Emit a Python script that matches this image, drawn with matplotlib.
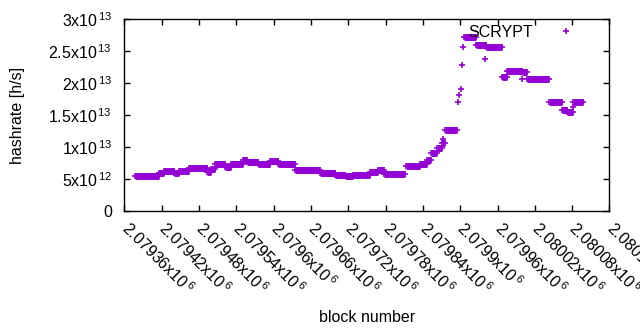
import matplotlib
matplotlib.use('Agg')
import matplotlib.pyplot as plt
from matplotlib.lines import Line2D

plt.rcParams['font.family'] = 'Liberation Sans'
plt.rcParams['mathtext.fontset'] = 'custom'
plt.rcParams['mathtext.rm'] = 'Liberation Sans'
plt.rcParams['mathtext.it'] = 'Liberation Sans'

purple = '#9400d3'
font_size = 11.5

# flat runs of blocks (first block, last block, hashrate in 1e12 h/s)
seg_start = [2079377, 2079415, 2079424, 2079440, 2079448, 2079464, 2079493, 2079499,
             2079506, 2079522, 2079532, 2079551, 2079557, 2079575, 2079594, 2079607,
             2079634, 2079674, 2079699, 2079715, 2079728, 2079739, 2079755, 2079768,
             2079777, 2079813, 2079835, 2079846, 2079853, 2079863, 2079871, 2079875,
             2079906, 2079925, 2079941, 2079967, 2079975, 2080000, 2080008, 2080043,
             2080063, 2080072, 2080082]
seg_end = [2079415, 2079424, 2079440, 2079448, 2079464, 2079493, 2079499, 2079505,
           2079522, 2079532, 2079551, 2079557, 2079575, 2079594, 2079607, 2079634,
           2079674, 2079699, 2079715, 2079728, 2079739, 2079755, 2079768, 2079777,
           2079811, 2079835, 2079846, 2079853, 2079863, 2079871, 2079875, 2079895,
           2079925, 2079941, 2079967, 2079975, 2080000, 2080008, 2080043, 2080063,
           2080072, 2080081, 2080098]
seg_rate = [5.45, 5.9, 6.3, 6.0, 6.2, 6.7, 6.1, 6.5,
            7.3, 6.9, 7.35, 7.9, 7.6, 7.3, 7.85, 7.3,
            6.4, 6.0, 5.6, 5.4, 5.6, 5.7, 6.1, 6.4,
            5.8, 7.1, 7.3, 8.0, 9.0, 9.8, 10.6, 12.6,
            27.2, 25.9, 25.6, 21.0, 21.85, 21.7, 20.7, 17.0,
            15.8, 15.4, 17.1]

# single blocks off the flat runs
pt_block = [2079873, 2079896, 2079898, 2079901, 2079903, 2079905, 2079940, 2080000, 2080081]
pt_rate = [11.2, 17.1, 18.1, 19.0, 22.8, 25.7, 23.7, 20.7, 16.3]

xtick_vals = [2079360, 2079420, 2079480, 2079540, 2079600, 2079660, 2079720,
              2079780, 2079840, 2079900, 2079960, 2080020, 2080080, 2080140]
xtick_text = ['2.07936', '2.07942', '2.07948', '2.07954', '2.0796', '2.07966', '2.07972',
              '2.07978', '2.07984', '2.0799', '2.07996', '2.08002', '2.08008', '2.08014']
ytick_vals = [0, 5e12, 1e13, 1.5e13, 2e13, 2.5e13, 3e13]
ytick_text = ['0', r'5x10$^{\,12}$', r'1x10$^{\,13}$', r'1.5x10$^{\,13}$', r'2x10$^{\,13}$',
              r'2.5x10$^{\,13}$', r'3x10$^{\,13}$']

fig = plt.figure(figsize=(6.4, 3.3), dpi=100)
ax = fig.add_axes([0.1945, 0.3606, 0.7578, 0.5818])

for s, e, r in zip(seg_start, seg_end, seg_rate):
    ax.hlines(r * 1e12, s, e, color=purple, linewidth=5, capstyle='butt')
    ax.plot([s, e], [r * 1e12, r * 1e12], ls='none', marker='+', ms=5, mew=1.2, color=purple)

ax.plot(pt_block, [r * 1e12 for r in pt_rate], ls='none', marker='+', ms=5, mew=1.2, color=purple)

ax.set_xlim(2079360, 2080140)
ax.set_ylim(0, 3e13)
ax.set_xticks(xtick_vals)
ax.set_xticklabels([t + r'x10$^{\,6}$' for t in xtick_text], rotation=-45,
                   ha='left', va='center', rotation_mode='anchor', fontsize=font_size)
ax.set_yticks(ytick_vals)
ax.set_yticklabels(ytick_text, fontsize=font_size)
ax.tick_params(direction='in', length=4, width=1, top=True, right=True, pad=9)
ax.tick_params(axis='x', pad=10)
for sp in ax.spines.values():
    sp.set_linewidth(1)

ax.set_xlabel('block number', fontsize=font_size, labelpad=9)
ax.set_ylabel('hashrate [h/s]', fontsize=font_size, labelpad=17)

handle = Line2D([], [], ls='none', marker='+', ms=5, mew=1.2, color=purple)
ax.legend([handle], ['SCRYPT'], loc='upper right', frameon=False, markerfirst=False,
          fontsize=font_size, bbox_to_anchor=((590 - 124.5) / 485, 0.985),
          borderaxespad=0, borderpad=0.2, handlelength=2.6, handletextpad=0.8)

fig.savefig('out.png', dpi=100)
